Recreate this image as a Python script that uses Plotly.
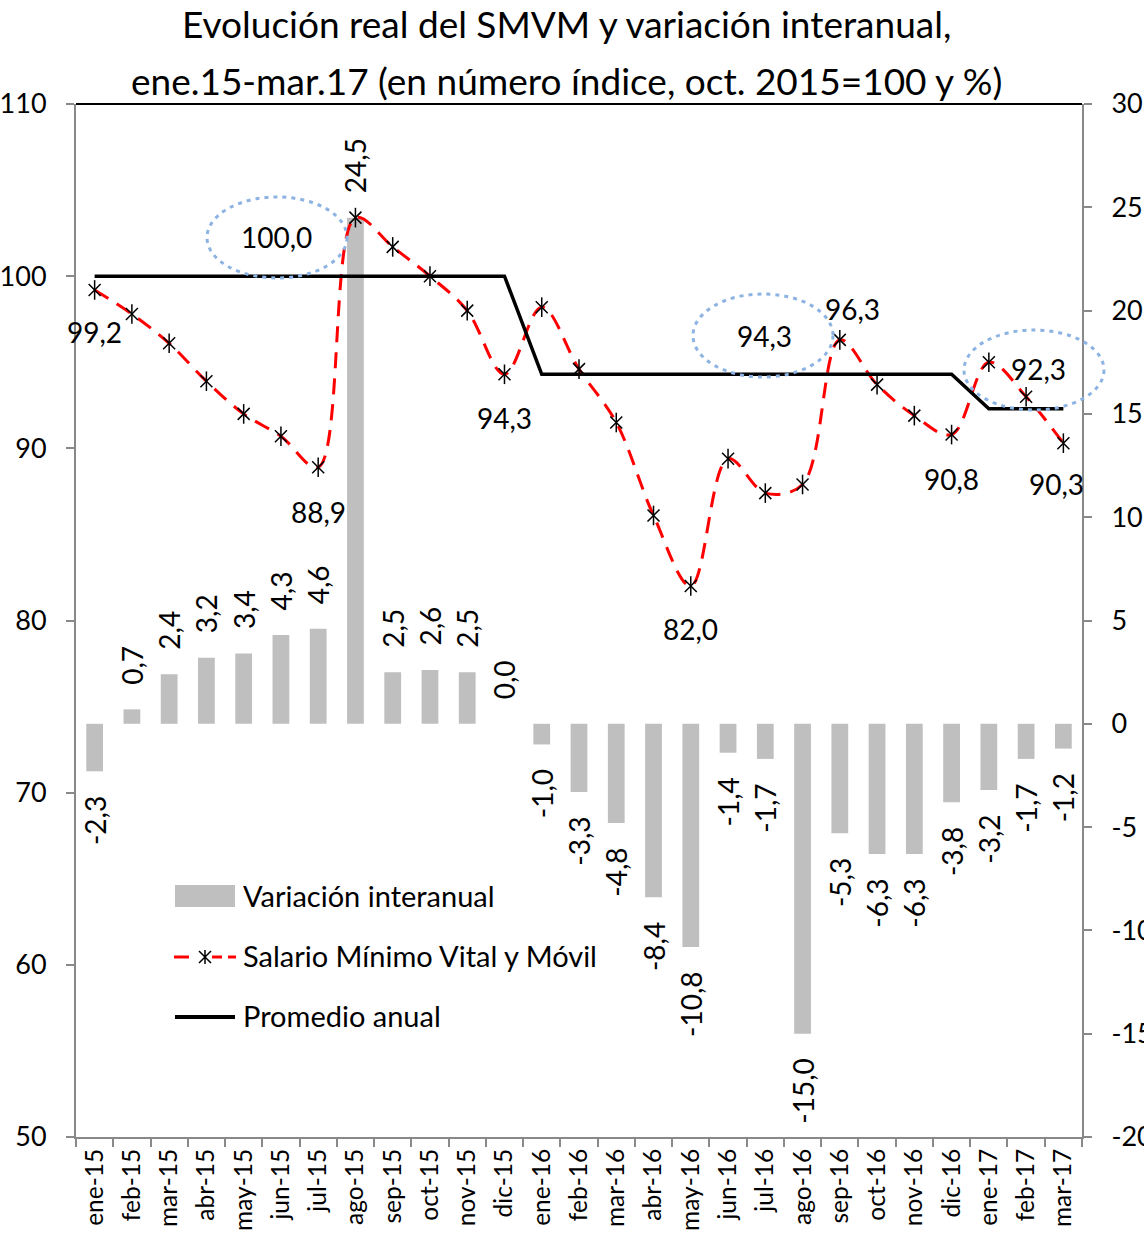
import plotly.graph_objects as go

meses = ["ene-15", "feb-15", "mar-15", "abr-15", "may-15", "jun-15", "jul-15", "ago-15",
         "sep-15", "oct-15", "nov-15", "dic-15", "ene-16", "feb-16", "mar-16", "abr-16",
         "may-16", "jun-16", "jul-16", "ago-16", "sep-16", "oct-16", "nov-16", "dic-16",
         "ene-17", "feb-17", "mar-17"]

variacion_interanual = [-2.3, 0.7, 2.4, 3.2, 3.4, 4.3, 4.6, 24.5, 2.5, 2.6, 2.5, 0.0,
                        -1.0, -3.3, -4.8, -8.4, -10.8, -1.4, -1.7, -15.0, -5.3, -6.3, -6.3, -3.8,
                        -3.2, -1.7, -1.2]

smvm = [99.2, 97.8, 96.1, 93.9, 92.0, 90.7, 88.9, 103.4, 101.7, 100.0, 98.0, 94.3,
        98.2, 94.6, 91.5, 86.1, 82.0, 89.4, 87.4, 87.9, 96.3, 93.7, 91.9, 90.8,
        95.0, 93.0, 90.3]

promedio_anual = [100.0, 100.0, 100.0, 100.0, 100.0, 100.0, 100.0, 100.0, 100.0, 100.0, 100.0, 100.0,
                  94.3, 94.3, 94.3, 94.3, 94.3, 94.3, 94.3, 94.3, 94.3, 94.3, 94.3, 94.3,
                  92.3, 92.3, 92.3]

# points of the SMVM series that carry a value label
etiquetas_smvm = [0, 6, 11, 16, 20, 23, 26]
# annual averages shown inside the dotted ellipses
promedios_destacados = [100.0, 94.3, 92.3]

left_ticks = [50, 60, 70, 80, 90, 100, 110]
right_ticks = [-20, -15, -10, -5, 0, 5, 10, 15, 20, 25, 30]

leyenda = ["Variación interanual", "Salario Mínimo Vital y Móvil", "Promedio anual"]

FONT = "Lato, 'Liberation Sans', sans-serif"
W, H = 1144, 1247
L, R, T, B = 76, 1082, 104, 1137
NB = "\u00a0"


def fmt(v):
    return f"{v:.1f}".replace(".", ",")


def px(x):
    return (x - L) / (R - L)


def py(y):
    return (B - y) / (B - T)


# bar labels: padding on the side facing the bar
bar_text = [(NB * 3 + fmt(v)) if v >= 0 else (fmt(v) + NB * 3) for v in variacion_interanual]

fig = go.Figure()

fig.add_trace(go.Bar(
    x=meses, y=variacion_interanual, name=leyenda[0],
    marker=dict(color="#BFBFBF", line=dict(width=0)),
    width=0.45,
    text=bar_text,
    textposition="outside", textangle=-90, constraintext="none",
    textfont=dict(family=FONT, size=28, color="black"),
    cliponaxis=False, yaxis="y",
))

fig.add_trace(go.Scatter(
    x=meses, y=smvm, name=leyenda[1],
    mode="lines+markers",
    line=dict(color="#FF0000", width=3, dash="16px,10px", shape="spline", smoothing=1),
    marker=dict(symbol="x-thin-open", size=12, color="black", line=dict(color="black", width=1.5)),
    yaxis="y2",
))
fig.add_trace(go.Scatter(
    x=meses, y=smvm, mode="markers", showlegend=False,
    marker=dict(symbol="line-ns-open", size=14, color="black", line=dict(color="black", width=1.5)),
    yaxis="y2", hoverinfo="skip",
))

fig.add_trace(go.Scatter(
    x=meses, y=promedio_anual, name=leyenda[2],
    mode="lines", line=dict(color="black", width=3.5),
    yaxis="y2",
))

# value labels of the SMVM series
offsets = {0: (0, -42), 6: (0, -45), 11: (0, -44), 16: (0, -43), 20: (13, 31), 23: (0, -44), 26: (-7, -41)}
for i in etiquetas_smvm:
    dx, dy = offsets[i]
    fig.add_annotation(x=meses[i], y=smvm[i], xref="x", yref="y2", text=fmt(smvm[i]),
                       showarrow=False, xshift=dx, yshift=dy, xanchor="center", yanchor="middle",
                       font=dict(family=FONT, size=28, color="black"))

# dotted ellipses with highlighted averages
ellipses = [((207, 197, 347, 278), (276, 237)),
            ((693, 294, 833, 377), (764, 336)),
            ((964, 330, 1104, 410), (1038, 369))]
for val, ((x0, y0, x1, y1), (tx, ty)) in zip(promedios_destacados, ellipses):
    fig.add_shape(type="circle", xref="paper", yref="paper",
                  x0=px(x0), x1=px(x1), y0=py(y1), y1=py(y0),
                  line=dict(color="#8DB3E2", width=3, dash="4px,5px"))
    fig.add_annotation(x=px(tx), y=py(ty), xref="paper", yref="paper", text=fmt(val),
                       showarrow=False, xanchor="center", yanchor="middle",
                       font=dict(family=FONT, size=28, color="black"))

# top border of the plot area
fig.add_shape(type="line", xref="paper", yref="paper", x0=0, x1=1, y0=1, y1=1,
              line=dict(color="black", width=2))

# legend (drawn by hand to match the original swatches)
fig.add_shape(type="rect", xref="paper", yref="paper", x0=px(175), x1=px(235), y0=py(907), y1=py(885),
              line=dict(width=0), fillcolor="#BFBFBF")
for a, b in [(174, 189), (212, 222), (228, 236)]:
    fig.add_shape(type="line", xref="paper", yref="paper", x0=px(a), x1=px(b), y0=py(957), y1=py(957),
                  line=dict(color="#FF0000", width=3))
cx, cy, s = 205, 957, 6
star = (f"M{px(cx - s)},{py(cy - s)} L{px(cx + s)},{py(cy + s)} "
        f"M{px(cx - s)},{py(cy + s)} L{px(cx + s)},{py(cy - s)} "
        f"M{px(cx)},{py(cy - s - 1)} L{px(cx)},{py(cy + s + 1)}")
fig.add_shape(type="path", xref="paper", yref="paper", path=star, line=dict(color="black", width=1.5))
fig.add_shape(type="line", xref="paper", yref="paper", x0=px(175), x1=px(235), y0=py(1017), y1=py(1017),
              line=dict(color="black", width=4))
for txt, yy in zip(leyenda, [895, 955, 1015]):
    fig.add_annotation(x=px(241), y=py(yy), xref="paper", yref="paper", xanchor="left", yanchor="middle",
                       text=txt, showarrow=False, font=dict(family=FONT, size=29, color="black"))

# title
fig.add_annotation(x=px(566), y=py(24), xref="paper", yref="paper", showarrow=False,
                   xanchor="center", yanchor="middle",
                   text="Evolución real del SMVM y variación interanual,",
                   font=dict(family=FONT, size=37, color="black"))
fig.add_annotation(x=px(566), y=py(80), xref="paper", yref="paper", showarrow=False,
                   xanchor="center", yanchor="middle",
                   text="ene.15-mar.17 (en número índice, oct. 2015=100 y %)",
                   font=dict(family=FONT, size=37, color="black"))

axis_grey = "#898989"
fig.update_layout(
    width=W, height=H,
    margin=dict(l=L, r=W - R, t=T, b=H - B, autoexpand=False),
    paper_bgcolor="white", plot_bgcolor="white",
    showlegend=False,
    xaxis=dict(type="category", range=[-0.5, len(meses) - 0.5], automargin=False,
               tickson="boundaries", ticks="outside", ticklen=8, tickcolor=axis_grey, tickwidth=2,
               showline=True, linecolor=axis_grey, linewidth=2,
               tickangle=-90, tickfont=dict(family=FONT, size=24.5, color="black"),
               showgrid=False, zeroline=False),
    yaxis=dict(side="right", range=[-20, 30], tickvals=right_ticks, automargin=False,
               ticktext=[str(v) for v in right_ticks],
               ticks="outside", ticklen=8, tickcolor=axis_grey, tickwidth=2,
               showline=True, linecolor=axis_grey, linewidth=2,
               tickfont=dict(family=FONT, size=27, color="black"), ticklabelstandoff=14,
               showgrid=False, zeroline=False),
    yaxis2=dict(overlaying="y", side="left", range=[50, 110], tickvals=left_ticks, automargin=False,
                ticks="outside", ticklen=8, tickcolor=axis_grey, tickwidth=2,
                showline=True, linecolor=axis_grey, linewidth=2,
                tickfont=dict(family=FONT, size=27, color="black"), ticklabelstandoff=14,
                showgrid=False, zeroline=False),
)

fig.write_html("out.html", config={"displayModeBar": False},
               post_script="document.body.style.margin='0';")
